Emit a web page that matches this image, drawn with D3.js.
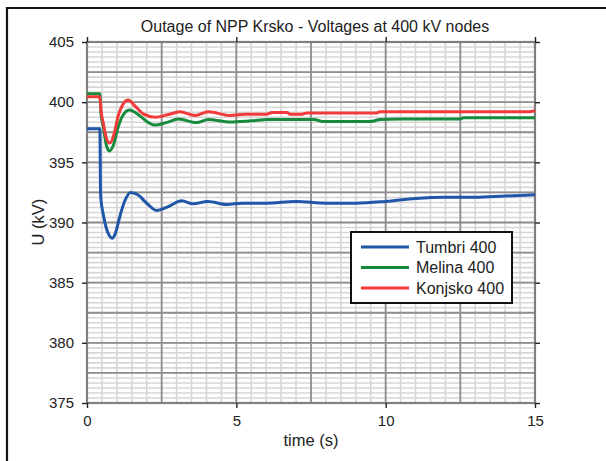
<!DOCTYPE html>
<html><head><meta charset="utf-8">
<script src="https://cdn.jsdelivr.net/npm/d3@7"></script>
<style>html,body{margin:0;padding:0;background:#fff;}svg{display:block;font-family:Arial,"Liberation Sans",sans-serif;}</style>
</head><body>
<svg id="c" width="606" height="461"></svg>
<script>
const title = "Outage of NPP Krsko - Voltages at 400 kV nodes";
const xLabel = "time (s)";
const yLabel = "U (kV)";
const xTicks = [0, 5, 10, 15];
const yTicks = [375, 380, 385, 390, 395, 400, 405];
const seriesNames = ["Tumbri 400", "Melina 400", "Konjsko 400"];
const seriesColors = ["#1f56a8", "#178a3c", "#f23a3a"];

const tumbriT = [0, 0.43, 0.455, 0.55, 0.65, 0.75, 0.84, 0.95, 1.1, 1.25, 1.46, 1.7, 2.0, 2.33, 2.7, 3.17, 3.55, 4.05, 4.68, 5.2, 6, 7, 8, 9, 10, 11, 12, 13, 14, 15];
const tumbriV = [397.8, 397.8, 392.3, 390.6, 389.5, 388.9, 388.7, 389.1, 390.5, 391.7, 392.5, 392.3, 391.6, 391.0, 391.3, 391.8, 391.55, 391.75, 391.5, 391.6, 391.6, 391.75, 391.6, 391.6, 391.75, 392.0, 392.1, 392.1, 392.2, 392.3];

const melinaT = [0, 0.43, 0.47, 0.55, 0.65, 0.75, 0.88, 1.05, 1.2, 1.42, 1.7, 2.0, 2.28, 2.65, 3.06, 3.67, 4.06, 4.79, 5.5, 6.06, 6.5, 7.6, 7.9, 9.5, 9.8, 10.5, 12.5, 12.6, 15];
const melinaV = [400.7, 400.7, 399.0, 397.9, 396.4, 395.95, 396.4, 398.0, 398.9, 399.35, 399.0, 398.4, 398.1, 398.3, 398.6, 398.3, 398.55, 398.35, 398.45, 398.55, 398.55, 398.55, 398.4, 398.4, 398.55, 398.6, 398.6, 398.7, 398.7];

const konjskoT = [0, 0.43, 0.47, 0.55, 0.65, 0.77, 0.9, 1.05, 1.2, 1.38, 1.6, 1.9, 2.28, 2.7, 3.11, 3.62, 4.06, 4.79, 5.3, 6.0, 6.2, 6.7, 6.8, 7.2, 7.35, 9.7, 9.8, 14.8, 15];
const konjskoV = [400.45, 400.45, 399.3, 398.2, 397.0, 396.6, 397.3, 398.9, 399.8, 400.18, 399.7, 399.0, 398.75, 398.95, 399.2, 398.9, 399.2, 398.9, 399.0, 399.0, 399.15, 399.15, 399.0, 399.0, 399.1, 399.1, 399.2, 399.2, 399.3];

const seriesT = [tumbriT, melinaT, konjskoT];
const seriesV = [tumbriV, melinaV, konjskoV];

const svg = d3.select("#c");
const L = 87, R = 535, T = 42, B = 403;
const x = d3.scaleLinear().domain([0, 15]).range([L, R]);
const y = d3.scaleLinear().domain([375, 405]).range([B, T]);

// figure frame
svg.append("path").attr("d", "M7,461V8H606").attr("fill", "none").attr("stroke", "#111").attr("stroke-width", 2.2);

// minor grid
const g = svg.append("g");
const xMinor = d3.range(0, 15.001, 0.5);
const yMinor = d3.range(0, 72.001, 1).map(i => 375 + i * 2.5 / 6);
g.selectAll(".vm").data(xMinor).enter().append("line")
  .attr("x1", d => x(d)).attr("x2", d => x(d)).attr("y1", T).attr("y2", B)
  .attr("stroke", "#d6d6d6").attr("stroke-width", 1.6);
g.selectAll(".hm").data(yMinor).enter().append("line")
  .attr("x1", L).attr("x2", R).attr("y1", d => y(d)).attr("y2", d => y(d))
  .attr("stroke", "#d6d6d6").attr("stroke-width", 1.6);
// major grid
const xMajor = d3.range(0, 15.001, 2.5);
const yMajor = d3.range(375, 405.001, 2.5);
g.selectAll(".vM").data(xMajor).enter().append("line")
  .attr("x1", d => x(d)).attr("x2", d => x(d)).attr("y1", T).attr("y2", B)
  .attr("stroke", "#8e8e8e").attr("stroke-width", 1.8);
g.selectAll(".hM").data(yMajor).enter().append("line")
  .attr("x1", L).attr("x2", R).attr("y1", d => y(d)).attr("y2", d => y(d))
  .attr("stroke", "#8e8e8e").attr("stroke-width", 1.8);

// plot box
svg.append("rect").attr("x", L).attr("y", T).attr("width", R - L).attr("height", B - T)
  .attr("fill", "none").attr("stroke", "#7f7f7f").attr("stroke-width", 2.2);

// axes with ticks
const tickLen = 5;
const axB = svg.append("g").attr("transform", `translate(0,${B})`)
  .call(d3.axisBottom(x).tickValues(xTicks).tickSize(tickLen).tickPadding(7).tickFormat(d3.format("d")));
const axT = svg.append("g").attr("transform", `translate(0,${T})`)
  .call(d3.axisTop(x).tickValues(xTicks).tickSize(tickLen).tickFormat(""));
const axL = svg.append("g").attr("transform", `translate(${L},0)`)
  .call(d3.axisLeft(y).tickValues(yTicks).tickSize(tickLen).tickPadding(8).tickFormat(d3.format("d")));
const axR = svg.append("g").attr("transform", `translate(${R},0)`)
  .call(d3.axisRight(y).tickValues(yTicks).tickSize(tickLen).tickFormat(""));
[axB, axT, axL, axR].forEach(a => {
  a.select(".domain").remove();
  a.selectAll(".tick line").attr("stroke", "#222").attr("stroke-width", 1.4);
  a.selectAll(".tick text").attr("fill", "#222").style("font-size", "15px").style("font-family", "Arial, 'Liberation Sans', sans-serif");
});

// series
const line = d3.line().x(d => x(d[0])).y(d => y(d[1])).curve(d3.curveMonotoneX);
seriesT.forEach((ts, i) => {
  const pts = ts.map((t, j) => [t, seriesV[i][j]]);
  svg.append("path").datum(pts).attr("d", line).attr("fill", "none")
    .attr("stroke", seriesColors[i]).attr("stroke-width", 3).attr("stroke-linejoin", "round");
});

// texts
svg.append("text").attr("x", (L + R) / 2 + 4).attr("y", 31.5).attr("text-anchor", "middle")
  .style("font-size", "16px").attr("fill", "#222").text(title);
svg.append("text").attr("x", (L + R) / 2).attr("y", 446).attr("text-anchor", "middle")
  .style("font-size", "16.5px").attr("fill", "#222").text(xLabel);
svg.append("text").attr("transform", "translate(44,222) rotate(-90)").attr("text-anchor", "middle")
  .style("font-size", "16.5px").attr("fill", "#222").text(yLabel);

// legend
const lg = svg.append("g");
lg.append("rect").attr("x", 351).attr("y", 232).attr("width", 161).attr("height", 71)
  .attr("fill", "#fff").attr("stroke", "#111").attr("stroke-width", 2);
seriesNames.forEach((n, i) => {
  const yy = 247 + i * 20.5;
  lg.append("line").attr("x1", 361).attr("x2", 409).attr("y1", yy).attr("y2", yy)
    .attr("stroke", seriesColors[i]).attr("stroke-width", 3);
  lg.append("text").attr("x", 416).attr("y", yy + 5.5).style("font-size", "16px").attr("fill", "#222").text(n);
});
</script>
</body></html>
